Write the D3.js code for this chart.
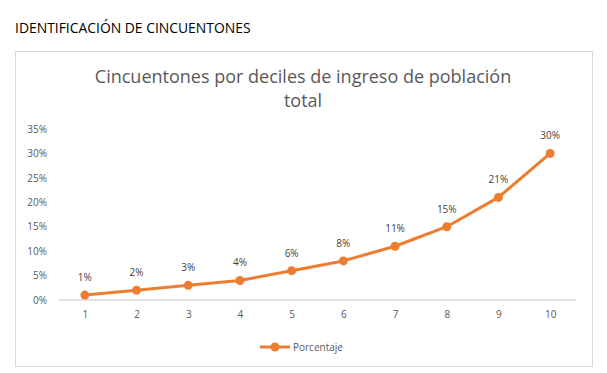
<!DOCTYPE html>
<html>
<head>
<meta charset="utf-8">
<script src="https://cdn.jsdelivr.net/npm/d3@7"></script>
<style>
  body { margin: 0; background: #fff; }
  svg { display: block; font-family: "Open Sans", sans-serif; }
</style>
</head>
<body>
<script>
// Datos
const deciles = ["1", "2", "3", "4", "5", "6", "7", "8", "9", "10"];
const porcentaje = [0.01, 0.02, 0.03, 0.04, 0.06, 0.08, 0.11, 0.15, 0.21, 0.30];
const yTicks = [0, 0.05, 0.10, 0.15, 0.20, 0.25, 0.30, 0.35];
const serieNombre = "Porcentaje";

const width = 607, height = 373;
const naranja = "#ED7D31";
const gris = "#595959";

const svg = d3.select("body").append("svg")
  .attr("width", width)
  .attr("height", height);

// Encabezado de la página
svg.append("text")
  .attr("x", 15)
  .attr("y", 33)
  .attr("font-size", 13.9)
  .attr("fill", "#000")
  .text("IDENTIFICACIÓN DE CINCUENTONES");

// Marco del gráfico
svg.append("rect")
  .attr("x", 15.5)
  .attr("y", 51.5)
  .attr("width", 577)
  .attr("height", 315)
  .attr("fill", "#fff")
  .attr("stroke", "#d9d9d9");

// Título
const title = svg.append("text")
  .attr("text-anchor", "middle")
  .attr("font-size", 18)
  .attr("fill", gris);
title.append("tspan").attr("x", 303).attr("y", 83).text("Cincuentones por deciles de ingreso de población");
title.append("tspan").attr("x", 303).attr("y", 107).text("total");

// Escalas
const x = d3.scalePoint()
  .domain(deciles)
  .range([59, 576])
  .padding(0.5);

const y = d3.scaleLinear()
  .domain([0, 0.35])
  .range([300, 129]);

// Eje Y (solo etiquetas)
const yAxis = svg.append("g")
  .attr("transform", "translate(47,0)")
  .call(d3.axisLeft(y).tickValues(yTicks).tickFormat(d3.format(".0%")).tickSize(0).tickPadding(0));
yAxis.select(".domain").remove();
yAxis.selectAll("text").attr("fill", gris).attr("font-size", 10).attr("font-family", "Open Sans, sans-serif");

// Línea base
svg.append("line")
  .attr("x1", 59).attr("x2", 576)
  .attr("y1", y(0)).attr("y2", y(0))
  .attr("stroke", "#d9d9d9")
  .attr("stroke-width", 1.5);

// Eje X
const xAxis = svg.append("g")
  .attr("transform", `translate(0,${y(0)})`)
  .call(d3.axisBottom(x).tickSize(0).tickPadding(11));
xAxis.select(".domain").remove();
xAxis.selectAll("text").attr("fill", gris).attr("font-size", 10).attr("font-family", "Open Sans, sans-serif");

// Serie
const puntos = deciles.map((d, i) => ({decil: d, valor: porcentaje[i]}));

svg.append("path")
  .datum(puntos)
  .attr("fill", "none")
  .attr("stroke", naranja)
  .attr("stroke-width", 3)
  .attr("stroke-linejoin", "round")
  .attr("d", d3.line().x(d => x(d.decil)).y(d => y(d.valor)));

svg.append("g")
  .selectAll("circle")
  .data(puntos)
  .join("circle")
  .attr("cx", d => x(d.decil))
  .attr("cy", d => y(d.valor))
  .attr("r", 4.5)
  .attr("fill", naranja);

// Etiquetas de datos
svg.append("g")
  .selectAll("text")
  .data(puntos)
  .join("text")
  .attr("x", d => x(d.decil))
  .attr("y", d => y(d.valor) - 14)
  .attr("text-anchor", "middle")
  .attr("font-size", 10)
  .attr("fill", "#404040")
  .text(d => d3.format(".0%")(d.valor));

// Leyenda
const legend = svg.append("g").attr("transform", "translate(260,347)");
legend.append("line")
  .attr("x1", 0).attr("x2", 30)
  .attr("stroke", naranja)
  .attr("stroke-width", 3);
legend.append("circle")
  .attr("cx", 15)
  .attr("r", 4.5)
  .attr("fill", naranja);
legend.append("text")
  .attr("x", 33)
  .attr("dy", "0.35em")
  .attr("font-size", 10)
  .attr("fill", gris)
  .text(serieNombre);
</script>
</body>
</html>
